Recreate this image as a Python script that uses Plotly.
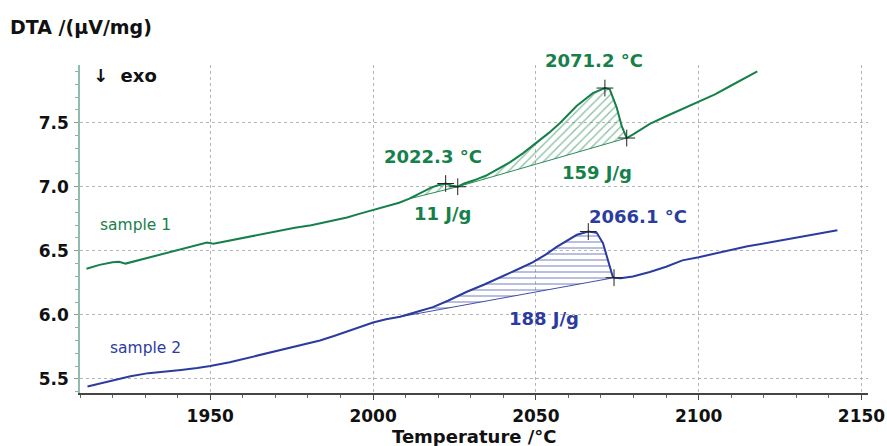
import plotly.graph_objects as go

# ---------------- data ----------------
s1_temp = [1912.0, 1916, 1920, 1922, 1924, 1927, 1931, 1936, 1941, 1946, 1949, 1951, 1956, 1961, 1966,
           1971, 1976, 1981, 1986, 1992, 1996, 2000, 2004, 2008, 2011, 2014, 2018, 2020, 2022.3, 2024,
           2026, 2028, 2031, 2035, 2039, 2042, 2046, 2050, 2054, 2057.5, 2062.5, 2067.5, 2071.2, 2072.7,
           2074, 2074.8, 2076.4, 2077.9, 2080, 2085, 2090, 2095, 2100, 2105, 2110, 2114, 2118]
s1_dta = [6.36, 6.39, 6.41, 6.415, 6.40, 6.42, 6.445, 6.48, 6.51, 6.545, 6.565, 6.555, 6.58, 6.61, 6.635,
          6.66, 6.68, 6.70, 6.725, 6.76, 6.79, 6.82, 6.85, 6.875, 6.905, 6.945, 6.995, 7.012, 7.025, 7.01,
          7.0, 7.025, 7.05, 7.09, 7.15, 7.19, 7.26, 7.34, 7.42, 7.50, 7.63, 7.73, 7.77, 7.76,
          7.68, 7.62, 7.47, 7.38, 7.41, 7.49, 7.55, 7.605, 7.66, 7.72, 7.79, 7.845, 7.90]

s2_temp = [1912.3, 1918, 1925.5, 1931, 1936, 1941, 1946, 1950, 1956, 1961, 1967, 1973.6, 1978, 1983.7,
           1988, 1992, 1996, 2000, 2004, 2008.3, 2013, 2018.4, 2023, 2028.8, 2034, 2039, 2044, 2049, 2053,
           2056.4, 2059.5, 2062.6, 2066.1, 2068.7, 2070.6, 2072.2, 2073.6, 2074, 2076, 2079.8, 2085, 2090,
           2095, 2100, 2105, 2110.4, 2115, 2120.8, 2126, 2131, 2137, 2142.6]
s2_dta = [5.44, 5.475, 5.52, 5.545, 5.555, 5.57, 5.585, 5.60, 5.63, 5.66, 5.70, 5.74, 5.765, 5.80,
          5.835, 5.87, 5.905, 5.94, 5.965, 5.985, 6.02, 6.06, 6.11, 6.18, 6.235, 6.29, 6.35, 6.41, 6.47,
          6.53, 6.58, 6.625, 6.65, 6.64, 6.56, 6.43, 6.30, 6.29, 6.285, 6.30, 6.335, 6.375,
          6.425, 6.45, 6.48, 6.51, 6.535, 6.56, 6.585, 6.61, 6.635, 6.66]

# peak integration limits (start, peak, end) in °C
s1_peaks = [(2011, 2022.3, 2026), (2026, 2071.2, 2077.9)]
s2_peaks = [(2008.3, 2066.1, 2074)]

# labels
s1_peak_labels = ["2022.3 °C", "2071.2 °C"]
s1_area_labels = ["11 J/g", "159 J/g"]
s2_peak_labels = ["2066.1 °C"]
s2_area_labels = ["188 J/g"]

x_ticks = [1950, 2000, 2050, 2100, 2150]
y_ticks = [5.5, 6.0, 6.5, 7.0, 7.5]

GREEN = "#16804a"
BLUE = "#2b3c9e"
FONT = "DejaVu Sans"

fig = go.Figure()


def add_series(temp, dta, peaks, color, pattern, psize):
    # hatched areas between curve and straight baseline
    for (t0, tp, t1) in peaks:
        xs = [t for t in temp if t0 <= t <= t1]
        ys = [v for t, v in zip(temp, dta) if t0 <= t <= t1]
        xs = xs + [xs[0]]
        ys = ys + [ys[0]]
        fig.add_trace(go.Scatter(
            x=xs, y=ys, mode="lines", fill="toself",
            line=dict(color=color, width=0.9),
            fillcolor="rgba(255,255,255,0)",
            fillpattern=dict(shape=pattern, fgcolor=color, bgcolor="rgba(255,255,255,0)",
                             size=psize, solidity=0.22),
            hoverinfo="skip", showlegend=False))
    # main curve
    fig.add_trace(go.Scatter(x=temp, y=dta, mode="lines",
                             line=dict(color=color, width=2), showlegend=False))
    # cross markers at peak and end
    mx, my = [], []
    for (t0, tp, t1) in peaks:
        for t in (tp, t1):
            i = temp.index(t)
            mx.append(temp[i]); my.append(dta[i])
    fig.add_trace(go.Scatter(x=mx, y=my, mode="markers",
                             marker=dict(symbol="cross-thin", size=12,
                                         line=dict(color="#222222", width=1)),
                             showlegend=False))


add_series(s1_temp, s1_dta, s1_peaks, GREEN, "/", 6)
add_series(s2_temp, s2_dta, s2_peaks, BLUE, "-", 6)


def ann(x, y, text, color, size=18, weight="bold", ref="data"):
    r = dict(xref="x", yref="y") if ref == "data" else dict(xref="paper", yref="paper")
    fig.add_annotation(x=x, y=y, text=text, showarrow=False,
                       font=dict(family=FONT, size=size, weight=weight, color=color),
                       xanchor="center", yanchor="middle", **r)


ann(2018.4, 7.232, s1_peak_labels[0], GREEN)
ann(0.652, 1.015, s1_peak_labels[1], GREEN, ref="paper")
ann(2021.2, 6.79, s1_area_labels[0], GREEN)
ann(2068.8, 7.11, s1_area_labels[1], GREEN)
ann(2081.4, 6.765, s2_peak_labels[0], BLUE)
ann(2052.5, 5.97, s2_area_labels[0], BLUE)
ann(1926.9, 6.70, "sample 1", GREEN, size=15.5, weight="normal")
ann(1930.0, 5.74, "sample 2", BLUE, size=15.5, weight="normal")
ann(0.057, 0.968, "↓  exo", "#111111", ref="paper")

# axis titles as annotations
fig.add_annotation(x=-0.0914, y=1.116, xref="paper", yref="paper", text="DTA /(μV/mg)",
                   showarrow=False, xanchor="left", yanchor="middle",
                   font=dict(family=FONT, size=19, weight="bold", color="#111111"))
fig.add_annotation(x=0.5, y=-0.134, xref="paper", yref="paper", text="Temperature /°C",
                   showarrow=False, xanchor="center", yanchor="middle",
                   font=dict(family=FONT, size=18, weight="bold", color="#111111"))

fig.update_layout(
    width=887, height=446,
    margin=dict(l=80, r=19, t=65, b=53),
    paper_bgcolor="white", plot_bgcolor="white",
    showlegend=False,
    xaxis=dict(range=[1910, 2152], tickvals=x_ticks, ticktext=[str(v) for v in x_ticks],
               showgrid=True, gridcolor="#b5b5b5", griddash="dot", gridwidth=1,
               showline=True, linecolor="#444444", linewidth=1.5,
               ticks="outside", ticklen=5, tickcolor="#444444",
               minor=dict(dtick=10, tick0=1950, ticks="outside", ticklen=3, tickcolor="#666666",
                          showgrid=False),
               tickfont=dict(family=FONT, size=17, weight="bold", color="#111111"),
               ticklabelstandoff=2, automargin=False, ticklabeloverflow="allow",
               zeroline=False),
    yaxis=dict(range=[5.39, 7.95], tickvals=y_ticks, ticktext=["5.5", "6.0", "6.5", "7.0", "7.5"],
               showgrid=True, gridcolor="#b5b5b5", griddash="dot", gridwidth=1,
               showline=True, linecolor="#8fbcae", linewidth=1.5,
               ticks="outside", ticklen=4, tickcolor="#8a9a94",
               minor=dict(dtick=0.1, tick0=5.5, ticks="outside", ticklen=3, tickcolor="#9aaaa4",
                          showgrid=False),
               tickfont=dict(family=FONT, size=17, weight="bold", color="#111111"),
               ticklabelstandoff=2, automargin=False,
               zeroline=False),
)

fig.write_html("out.html", config={"displayModeBar": False},
               post_script="document.body.style.margin='0';document.body.style.overflow='hidden';")
